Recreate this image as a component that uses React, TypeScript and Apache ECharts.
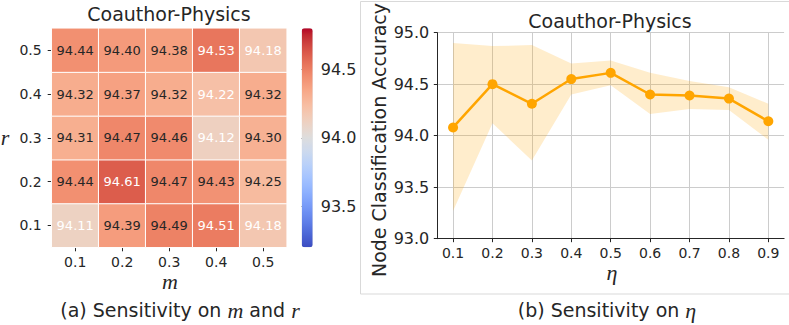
import React, { useEffect, useRef } from "react";
import * as echarts from "echarts";

// ---------- Data ----------
const mCategories = ["0.1", "0.2", "0.3", "0.4", "0.5"];
const rCategories = ["0.1", "0.2", "0.3", "0.4", "0.5"]; // bottom to top
const accR01 = [94.11, 94.39, 94.49, 94.51, 94.18];
const accR02 = [94.44, 94.61, 94.47, 94.43, 94.25];
const accR03 = [94.31, 94.47, 94.46, 94.12, 94.3];
const accR04 = [94.32, 94.37, 94.32, 94.22, 94.32];
const accR05 = [94.44, 94.4, 94.38, 94.53, 94.18];
const heatRows = [accR01, accR02, accR03, accR04, accR05];
const colorbarTicks = [93.5, 94.0, 94.5];

const etaValues = [0.1, 0.2, 0.3, 0.4, 0.5, 0.6, 0.7, 0.8, 0.9];
const etaMean = [94.08, 94.5, 94.31, 94.55, 94.61, 94.4, 94.39, 94.36, 94.14];
const etaUpper = [94.9, 94.87, 94.88, 94.7, 94.73, 94.61, 94.53, 94.47, 94.31];
const etaLower = [93.27, 94.12, 93.76, 94.4, 94.49, 94.21, 94.26, 94.25, 93.96];

// coolwarm colormap stops
const coolwarm = [
  "#3b4cc0", "#445acc", "#4d68d7", "#5775e1", "#6282ea", "#6c8ef1", "#779af7", "#82a5fb",
  "#8db0fe", "#98b9ff", "#a3c2ff", "#aec9fd", "#b8d0f9", "#c2d5f4", "#ccd9ee", "#d5dbe6",
  "#dddddd", "#e5d8d1", "#ecd3c5", "#f1ccb8", "#f5c4ac", "#f7bb9f", "#f7b193", "#f7a686",
  "#f49a7b", "#f18d6f", "#ec7f63", "#e57059", "#de604e", "#d55045", "#cb3e3c", "#c0282f",
  "#b40426",
];

const DARK = "#262626";
const SANS = "DejaVu Sans";
const SERIF = "Liberation Serif";

export default function App() {
  const ref = useRef<HTMLDivElement>(null);

  useEffect(() => {
    if (!ref.current) return;
    const chart = echarts.init(ref.current, undefined, { renderer: "svg" });

    const heatData: any[] = [];
    heatRows.forEach((row, yi) =>
      row.forEach((v, xi) => {
        const white = v >= 94.5 || v <= 94.22;
        heatData.push({
          value: [xi, yi, v],
          label: { color: white ? "#ffffff" : DARK },
        });
      })
    );

    const option: any = {
      animation: false,
      backgroundColor: "#ffffff",
      textStyle: { fontFamily: SANS },
      grid: [
        { left: 51.7, top: 28.3, width: 235, height: 219 },
        { left: 437.3, top: 32.7, width: 346.8, height: 206 },
        { left: 301.7, top: 28.3, width: 11, height: 219 },
      ],
      xAxis: [
        {
          gridIndex: 0,
          type: "category",
          data: mCategories,
          axisLine: { show: false },
          axisTick: { show: true, alignWithLabel: true, length: 4, lineStyle: { color: DARK } },
          axisLabel: { fontSize: 14, color: DARK, margin: 8 },
          splitLine: { show: false },
        },
        {
          gridIndex: 1,
          type: "value",
          min: 0.06,
          max: 0.94,
          axisLine: { show: true, lineStyle: { color: DARK, width: 1 } },
          axisTick: { show: true, length: 3.5, customValues: etaValues, lineStyle: { color: DARK } },
          axisLabel: {
            fontSize: 14,
            color: DARK,
            margin: 7,
            customValues: etaValues,
            formatter: (v: number) => v.toFixed(1),
          },
          splitLine: { show: true, lineStyle: { color: "#cccccc", width: 1 } },
        },
        { gridIndex: 2, type: "value", show: false, min: 0, max: 1 },
      ],
      yAxis: [
        {
          gridIndex: 0,
          type: "category",
          data: rCategories,
          axisLine: { show: false },
          axisTick: { show: true, alignWithLabel: true, length: 4, lineStyle: { color: DARK } },
          axisLabel: { fontSize: 14, color: DARK, margin: 10 },
          splitLine: { show: false },
        },
        {
          gridIndex: 1,
          type: "value",
          min: 93,
          max: 95,
          interval: 0.5,
          axisLine: { show: true, lineStyle: { color: DARK, width: 1 } },
          axisTick: { show: true, length: 3.5, lineStyle: { color: DARK } },
          axisLabel: { fontSize: 16, color: DARK, margin: 8, formatter: (v: number) => v.toFixed(1) },
          splitLine: { show: true, lineStyle: { color: "#cccccc", width: 1 } },
        },
        {
          gridIndex: 2,
          type: "value",
          position: "right",
          min: 93.2,
          max: 94.8,
          axisLine: { show: false },
          axisTick: { show: true, length: 3.5, customValues: colorbarTicks, lineStyle: { color: DARK } },
          axisLabel: {
            fontSize: 16,
            color: DARK,
            margin: 8,
            customValues: colorbarTicks,
            formatter: (v: number) => v.toFixed(1),
          },
          splitLine: { show: false },
        },
      ],
      visualMap: {
        type: "continuous",
        seriesIndex: 0,
        min: 93.2,
        max: 94.8,
        calculable: false,
        hoverLink: false,
        left: 301.7,
        top: 28.3,
        itemWidth: 11,
        itemHeight: 219,
        padding: 0,
        inRange: { color: coolwarm },
      },
      series: [
        {
          type: "heatmap",
          xAxisIndex: 0,
          yAxisIndex: 0,
          data: heatData,
          itemStyle: { borderColor: "#ffffff", borderWidth: 1 },
          label: {
            show: true,
            fontSize: 13,
            fontFamily: SANS,
            formatter: (p: any) => p.value[2].toFixed(2),
          },
          emphasis: { disabled: true },
        },
        {
          type: "custom",
          xAxisIndex: 1,
          yAxisIndex: 1,
          silent: true,
          z: 1,
          data: etaValues.map((e, i) => [e, etaLower[i], etaUpper[i]]),
          encode: { x: 0, y: [1, 2] },
          renderItem: (params: any, api: any) => {
            if (params.dataIndex !== 0) return null;
            const top = etaValues.map((e, i) => api.coord([e, etaUpper[i]]));
            const bottom = etaValues.map((e, i) => api.coord([e, etaLower[i]])).reverse();
            return {
              type: "polygon",
              shape: { points: top.concat(bottom) },
              style: { fill: "rgba(255,165,0,0.2)", stroke: "none" },
            };
          },
        },
        {
          type: "line",
          xAxisIndex: 1,
          yAxisIndex: 1,
          z: 3,
          data: etaValues.map((e, i) => [e, etaMean[i]]),
          lineStyle: { color: "#ffa500", width: 2.5 },
          itemStyle: { color: "#ffa500" },
          symbol: "circle",
          symbolSize: 10,
          showSymbol: true,
          emphasis: { disabled: true },
        },
      ],
      graphic: [
        {
          type: "rect",
          shape: { x: 360.5, y: 1.5, width: 440, height: 292.5 },
          style: { fill: "none", stroke: "#d9d9d9", lineWidth: 1 },
          silent: true,
        },
        {
          type: "text",
          x: 169,
          y: 14,
          style: { text: "Coauthor-Physics", fontSize: 19, fontFamily: SANS, fill: DARK, align: "center", verticalAlign: "middle" },
        },
        {
          type: "text",
          x: 610,
          y: 20.5,
          style: { text: "Coauthor-Physics", fontSize: 19, fontFamily: SANS, fill: DARK, align: "center", verticalAlign: "middle" },
        },
        {
          type: "text",
          x: 170,
          y: 281,
          style: { text: "m", fontSize: 22, fontFamily: SERIF, fontStyle: "italic", fill: DARK, align: "center", verticalAlign: "middle" },
        },
        {
          type: "text",
          x: 5,
          y: 137,
          style: { text: "r", fontSize: 22, fontFamily: SERIF, fontStyle: "italic", fill: DARK, align: "center", verticalAlign: "middle" },
        },
        {
          type: "text",
          x: 612,
          y: 272,
          style: { text: "η", fontSize: 22, fontFamily: SERIF, fontStyle: "italic", fill: DARK, align: "center", verticalAlign: "middle" },
        },
        {
          type: "text",
          x: 378.5,
          y: 140,
          rotation: Math.PI / 2,
          style: { text: "Node Classification Accuracy", fontSize: 19, fontFamily: SANS, fill: DARK, align: "center", verticalAlign: "middle" },
        },
        {
          type: "text",
          x: 180,
          y: 310,
          style: {
            text: "(a) Sensitivity on {i|m} and {i|r}",
            fontSize: 19,
            fontFamily: SANS,
            fill: DARK,
            align: "center",
            verticalAlign: "middle",
            rich: { i: { fontSize: 22, fontFamily: SERIF, fontStyle: "italic", fill: DARK } },
          },
        },
        {
          type: "text",
          x: 607,
          y: 310,
          style: {
            text: "(b) Sensitivity on {i|η}",
            fontSize: 19,
            fontFamily: SANS,
            fill: DARK,
            align: "center",
            verticalAlign: "middle",
            rich: { i: { fontSize: 22, fontFamily: SERIF, fontStyle: "italic", fill: DARK } },
          },
        },
      ],
    };

    chart.setOption(option);
    return () => chart.dispose();
  }, []);

  return (
    <div
      ref={ref}
      style={{ position: "absolute", left: 0, top: 0, width: 789, height: 325 }}
    />
  );
}
